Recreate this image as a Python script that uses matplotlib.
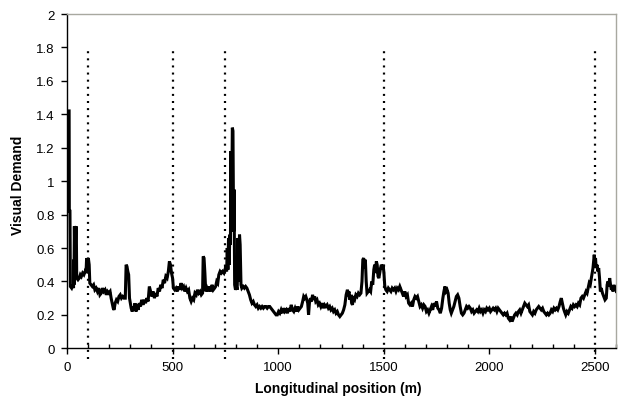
import matplotlib
matplotlib.use("Agg")
import matplotlib.pyplot as plt
from matplotlib.ticker import MultipleLocator, FuncFormatter

plt.rcParams['font.family'] = ['Liberation Sans', 'DejaVu Sans']

# Longitudinal position (m) and visual demand
position_m = [
    3, 10, 11, 14, 16, 22, 28, 31, 32, 33, 35, 38, 41, 44, 46, 52, 58, 63, 68, 74,
    80, 86, 90, 93, 97, 101, 105, 108, 114, 120, 126, 132, 138, 144, 150, 156, 162, 168, 174, 180,
    186, 192, 198, 204, 209, 214, 219, 223, 228, 234, 240, 246, 252, 258, 264, 270, 276, 280, 284, 288,
    292, 296, 300, 304, 309, 314, 318, 322, 327, 332, 337, 342, 348, 354, 360, 366, 372, 378, 384, 390,
    396, 402, 408, 414, 420, 426, 432, 438, 444, 450, 456, 462, 468, 474, 480, 485, 490, 495, 500, 504,
    510, 516, 522, 528, 534, 540, 546, 552, 558, 564, 570, 576, 582, 588, 594, 600, 606, 612, 618, 624,
    630, 636, 642, 645, 649, 653, 657, 663, 669, 675, 681, 687, 693, 699, 704, 709, 714, 719, 725, 731,
    737, 743, 748, 752, 756, 759, 762, 765, 768, 771, 774, 776, 779, 783, 786, 789, 791, 794, 798, 802,
    806, 810, 813, 817, 820, 824, 828, 834, 840, 846, 852, 858, 864, 870, 876, 882, 888, 894, 900, 906,
    912, 918, 924, 930, 936, 942, 948, 954, 960, 966, 972, 978, 984, 990, 996, 1002, 1008, 1014, 1020, 1026,
    1032, 1038, 1044, 1050, 1056, 1062, 1068, 1074, 1080, 1086, 1092, 1098, 1104, 1110, 1116, 1121, 1126, 1131, 1136, 1140,
    1144, 1148, 1153, 1158, 1163, 1168, 1173, 1178, 1184, 1190, 1196, 1202, 1208, 1214, 1220, 1226, 1232, 1238, 1244, 1250,
    1256, 1262, 1268, 1274, 1280, 1286, 1292, 1298, 1304, 1310, 1316, 1322, 1328, 1332, 1336, 1340, 1344, 1348, 1352, 1356,
    1362, 1368, 1374, 1380, 1386, 1392, 1397, 1401, 1405, 1409, 1413, 1417, 1421, 1427, 1433, 1438, 1443, 1448, 1453, 1457,
    1461, 1465, 1469, 1473, 1477, 1481, 1485, 1489, 1493, 1497, 1501, 1505, 1510, 1516, 1522, 1528, 1534, 1540, 1546, 1552,
    1558, 1564, 1570, 1576, 1582, 1588, 1594, 1600, 1606, 1612, 1618, 1624, 1630, 1636, 1642, 1648, 1654, 1660, 1666, 1672,
    1678, 1684, 1690, 1696, 1702, 1708, 1714, 1720, 1726, 1732, 1738, 1744, 1750, 1756, 1762, 1768, 1774, 1780, 1785, 1790,
    1795, 1800, 1805, 1810, 1815, 1820, 1826, 1832, 1838, 1844, 1850, 1856, 1862, 1868, 1874, 1880, 1886, 1892, 1898, 1904,
    1910, 1916, 1922, 1928, 1934, 1940, 1946, 1952, 1958, 1964, 1970, 1976, 1982, 1988, 1994, 2000, 2006, 2012, 2018, 2024,
    2030, 2036, 2042, 2048, 2054, 2060, 2066, 2072, 2078, 2084, 2090, 2096, 2102, 2108, 2114, 2120, 2126, 2132, 2138, 2144,
    2150, 2156, 2162, 2168, 2174, 2180, 2186, 2192, 2198, 2204, 2210, 2216, 2222, 2228, 2234, 2240, 2246, 2252, 2258, 2264,
    2270, 2276, 2282, 2288, 2294, 2300, 2306, 2312, 2318, 2324, 2330, 2336, 2341, 2346, 2351, 2356, 2362, 2368, 2374, 2380,
    2386, 2392, 2398, 2404, 2410, 2416, 2422, 2428, 2434, 2440, 2446, 2452, 2458, 2463, 2468, 2473, 2478, 2483, 2487, 2491,
    2494, 2497, 2500, 2503, 2506, 2510, 2514, 2518, 2522, 2526, 2530, 2536, 2542, 2548, 2554, 2558, 2562, 2566, 2570, 2574,
    2578, 2582, 2586, 2590, 2594, 2598, 2602,
]
visual_demand = [
    1.42, 1.42, 0.82, 0.82, 0.37, 0.36, 0.38, 0.36, 0.53, 0.38, 0.73, 0.42, 0.72, 0.73, 0.42, 0.41, 0.42, 0.44, 0.43, 0.45,
    0.44, 0.46, 0.45, 0.54, 0.46, 0.54, 0.50, 0.39, 0.38, 0.37, 0.38, 0.35, 0.36, 0.34, 0.36, 0.32, 0.33, 0.36, 0.34, 0.35,
    0.32, 0.34, 0.33, 0.34, 0.30, 0.27, 0.24, 0.23, 0.27, 0.29, 0.28, 0.31, 0.32, 0.30, 0.31, 0.30, 0.30, 0.50, 0.49, 0.46,
    0.44, 0.30, 0.27, 0.24, 0.22, 0.25, 0.23, 0.27, 0.22, 0.26, 0.23, 0.27, 0.25, 0.29, 0.26, 0.29, 0.27, 0.30, 0.28, 0.37,
    0.34, 0.31, 0.34, 0.30, 0.33, 0.31, 0.36, 0.34, 0.38, 0.36, 0.41, 0.39, 0.43, 0.42, 0.46, 0.52, 0.50, 0.45, 0.42, 0.36,
    0.35, 0.36, 0.34, 0.37, 0.35, 0.39, 0.36, 0.37, 0.34, 0.36, 0.34, 0.35, 0.30, 0.28, 0.30, 0.29, 0.33, 0.32, 0.35, 0.33,
    0.34, 0.32, 0.33, 0.55, 0.54, 0.45, 0.34, 0.36, 0.34, 0.37, 0.34, 0.38, 0.35, 0.36, 0.37, 0.40, 0.39, 0.44, 0.46, 0.45,
    0.46, 0.45, 0.47, 0.49, 0.46, 0.60, 0.47, 0.66, 0.50, 0.68, 0.62, 1.18, 0.70, 1.32, 1.30, 0.70, 0.95, 0.38, 0.35, 0.37,
    0.35, 0.66, 0.40, 0.68, 0.62, 0.38, 0.36, 0.37, 0.36, 0.37, 0.36, 0.34, 0.32, 0.29, 0.27, 0.28, 0.26, 0.25, 0.26, 0.24,
    0.25, 0.24, 0.25, 0.24, 0.25, 0.25, 0.24, 0.25, 0.25, 0.24, 0.23, 0.22, 0.21, 0.20, 0.20, 0.22, 0.21, 0.23, 0.21, 0.24,
    0.22, 0.23, 0.21, 0.24, 0.22, 0.26, 0.23, 0.22, 0.24, 0.22, 0.25, 0.23, 0.24, 0.25, 0.28, 0.31, 0.30, 0.31, 0.29, 0.27,
    0.20, 0.27, 0.30, 0.28, 0.32, 0.29, 0.31, 0.28, 0.29, 0.26, 0.27, 0.25, 0.27, 0.24, 0.26, 0.25, 0.26, 0.24, 0.25, 0.23,
    0.24, 0.22, 0.23, 0.21, 0.22, 0.20, 0.19, 0.20, 0.21, 0.23, 0.26, 0.32, 0.35, 0.33, 0.34, 0.29, 0.32, 0.27, 0.26, 0.30,
    0.29, 0.32, 0.31, 0.33, 0.32, 0.33, 0.40, 0.53, 0.54, 0.48, 0.53, 0.40, 0.33, 0.34, 0.35, 0.34, 0.40, 0.38, 0.47, 0.50,
    0.45, 0.52, 0.50, 0.43, 0.42, 0.45, 0.48, 0.50, 0.47, 0.50, 0.45, 0.37, 0.35, 0.34, 0.36, 0.35, 0.34, 0.36, 0.35, 0.36,
    0.34, 0.36, 0.35, 0.37, 0.35, 0.33, 0.31, 0.34, 0.31, 0.32, 0.27, 0.26, 0.27, 0.25, 0.29, 0.31, 0.30, 0.31, 0.28, 0.25,
    0.26, 0.24, 0.26, 0.25, 0.22, 0.23, 0.21, 0.23, 0.25, 0.23, 0.27, 0.25, 0.28, 0.24, 0.23, 0.21, 0.24, 0.30, 0.34, 0.37,
    0.34, 0.35, 0.33, 0.27, 0.23, 0.21, 0.23, 0.25, 0.28, 0.31, 0.32, 0.30, 0.25, 0.21, 0.20, 0.21, 0.23, 0.25, 0.24, 0.25,
    0.24, 0.22, 0.23, 0.21, 0.22, 0.23, 0.22, 0.24, 0.22, 0.23, 0.21, 0.23, 0.22, 0.24, 0.23, 0.24, 0.22, 0.23, 0.24, 0.23,
    0.24, 0.22, 0.24, 0.23, 0.22, 0.21, 0.20, 0.21, 0.20, 0.21, 0.18, 0.17, 0.19, 0.16, 0.18, 0.20, 0.21, 0.20, 0.22, 0.23,
    0.21, 0.23, 0.25, 0.27, 0.26, 0.25, 0.26, 0.22, 0.21, 0.20, 0.22, 0.21, 0.23, 0.24, 0.25, 0.24, 0.23, 0.24, 0.22, 0.21,
    0.20, 0.21, 0.20, 0.21, 0.23, 0.22, 0.24, 0.23, 0.24, 0.23, 0.25, 0.28, 0.30, 0.27, 0.24, 0.22, 0.20, 0.22, 0.21, 0.23,
    0.25, 0.24, 0.26, 0.25, 0.26, 0.25, 0.27, 0.26, 0.30, 0.31, 0.30, 0.32, 0.34, 0.33, 0.36, 0.39, 0.38, 0.42, 0.45, 0.48,
    0.52, 0.56, 0.51, 0.54, 0.48, 0.50, 0.46, 0.48, 0.42, 0.34, 0.36, 0.33, 0.31, 0.29, 0.30, 0.38, 0.40, 0.37, 0.42, 0.38,
    0.35, 0.37, 0.34, 0.38, 0.35, 0.37, 0.34,
]

# Section boundaries (dotted markers)
section_marks_m = [100, 500, 750, 1500, 2500]
marker_top = 1.8

x_ticks = [0, 500, 1000, 1500, 2000, 2500]
y_ticks = [0, 0.2, 0.4, 0.6, 0.8, 1.0, 1.2, 1.4, 1.6, 1.8, 2.0]

fig = plt.figure(figsize=(6.22, 4.06), dpi=100)
ax = fig.add_axes([67 / 622, 56.7 / 406, 549 / 622, 334.3 / 406])

ax.plot(position_m, visual_demand, color='black', lw=2.2, solid_joinstyle='miter', zorder=3)

for xm in section_marks_m:
    ax.plot([xm, xm], [-0.065, marker_top], color='black', lw=1.6,
            linestyle=(0, (0.9, 2.3)), clip_on=False, zorder=2)

ax.set_xlim(0, 2600)
ax.set_ylim(0, 2)
ax.set_xticks(x_ticks)
ax.set_yticks(y_ticks)
ax.xaxis.set_minor_locator(MultipleLocator(100))
ax.yaxis.set_major_formatter(FuncFormatter(lambda v, p: f"{v:g}"))

ax.tick_params(axis='both', which='major', direction='out', length=4, width=1,
               labelsize=9.5, colors='black', pad=5)
ax.tick_params(axis='x', which='minor', direction='in', length=3, width=1)

for side in ['left', 'bottom']:
    ax.spines[side].set_color('black')
    ax.spines[side].set_linewidth(1.0)
for side in ['top', 'right']:
    ax.spines[side].set_color('#a8a8a0')
    ax.spines[side].set_linewidth(1.0)

ax.set_xlabel('Longitudinal position (m)', fontsize=10, fontweight='bold')
ax.set_ylabel('Visual Demand', fontsize=10, fontweight='bold')
ax.xaxis.set_label_coords(0.494, -0.097)
ax.yaxis.set_label_coords(-0.077, 0.49)

fig.savefig('out.png', dpi=100)
